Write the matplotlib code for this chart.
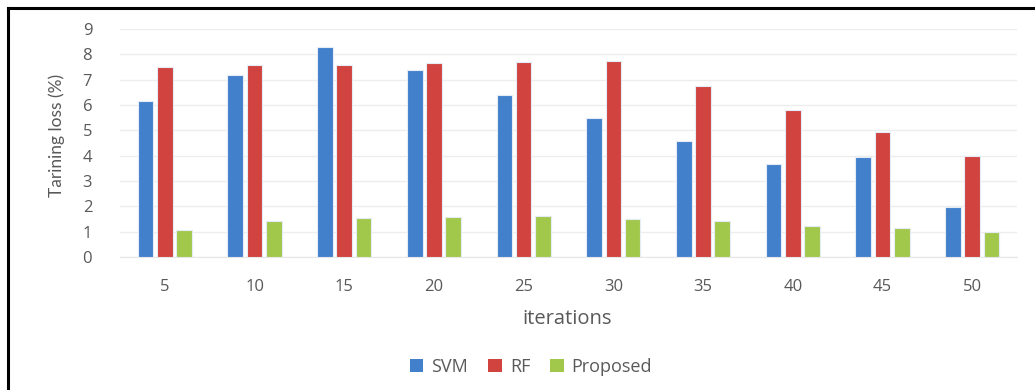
import numpy as np
import matplotlib
matplotlib.use("Agg")
import matplotlib.pyplot as plt
from matplotlib.lines import Line2D
from matplotlib.patches import Patch

iterations = ["5", "10", "15", "20", "25", "30", "35", "40", "45", "50"]
svm = [6.14, 7.18, 8.29, 7.39, 6.40, 5.47, 4.58, 3.66, 3.94, 1.98]
rf = [7.50, 7.56, 7.57, 7.67, 7.71, 7.75, 6.74, 5.80, 4.93, 3.98]
proposed = [1.07, 1.41, 1.53, 1.59, 1.63, 1.49, 1.42, 1.21, 1.16, 0.99]

series = [("SVM", svm, "#4380CC"), ("RF", rf, "#D0433F"), ("Proposed", proposed, "#A2C84B")]

plt.rcParams["font.family"] = ["Open Sans", "DejaVu Sans"]
text_color = "#595959"

fig = plt.figure(figsize=(10.35, 3.9), dpi=100)
ax = fig.add_axes([120 / 1035, 1 - 257 / 390, (1017 - 120) / 1035, (257 - 29) / 390])

x = np.arange(len(iterations))
width = 0.175
step = 0.215
for i, (name, vals, color) in enumerate(series):
    ax.bar(x + (i - 1) * step, vals, width, color=color, edgecolor="#E4ECF5",
           linewidth=0.8, label=name, zorder=3)

ax.set_xlim(-0.5, len(iterations) - 0.5)
ax.set_ylim(0, 9)
ax.set_yticks(range(0, 10))
ax.set_xticks(x)
ax.set_xticklabels(iterations)
ax.grid(axis="y", color="#EDEDED", linewidth=1.0, zorder=0)
for s in ["top", "right", "left"]:
    ax.spines[s].set_visible(False)
ax.spines["bottom"].set_color("#E6E6E6")
ax.tick_params(axis="both", length=0, labelsize=12, colors=text_color)
ax.tick_params(axis="y", pad=20)
ax.tick_params(axis="x", pad=16)

fig.text(57 / 1035, 1 - 135 / 390, "Tarining loss (%)", rotation=90, ha="center",
         va="center", fontsize=12.5, color=text_color, family=["Lato", "DejaVu Sans"])
fig.text(567 / 1035, 1 - 319 / 390, "iterations", ha="center", va="center",
         fontsize=14.5, color=text_color)

handles = [Patch(facecolor=c, edgecolor="none", label=n) for n, _, c in series]
fig.legend(handles=handles, loc="center", bbox_to_anchor=(531 / 1035, 1 - 367 / 390),
           ncol=3, frameon=False, fontsize=13, handlelength=0.75, handleheight=0.75,
           handletextpad=0.45, columnspacing=1.1, labelcolor=text_color)

# Frame lines along the left and top edges
fig.add_artist(Line2D([8 / 1035, 8 / 1035], [0, 1 - 8 / 390], transform=fig.transFigure,
                      color="black", linewidth=2.2))
fig.add_artist(Line2D([8 / 1035, 1], [1 - 8 / 390, 1 - 8 / 390], transform=fig.transFigure,
                      color="black", linewidth=2.2))

fig.savefig("out.png", dpi=100, facecolor="white")
